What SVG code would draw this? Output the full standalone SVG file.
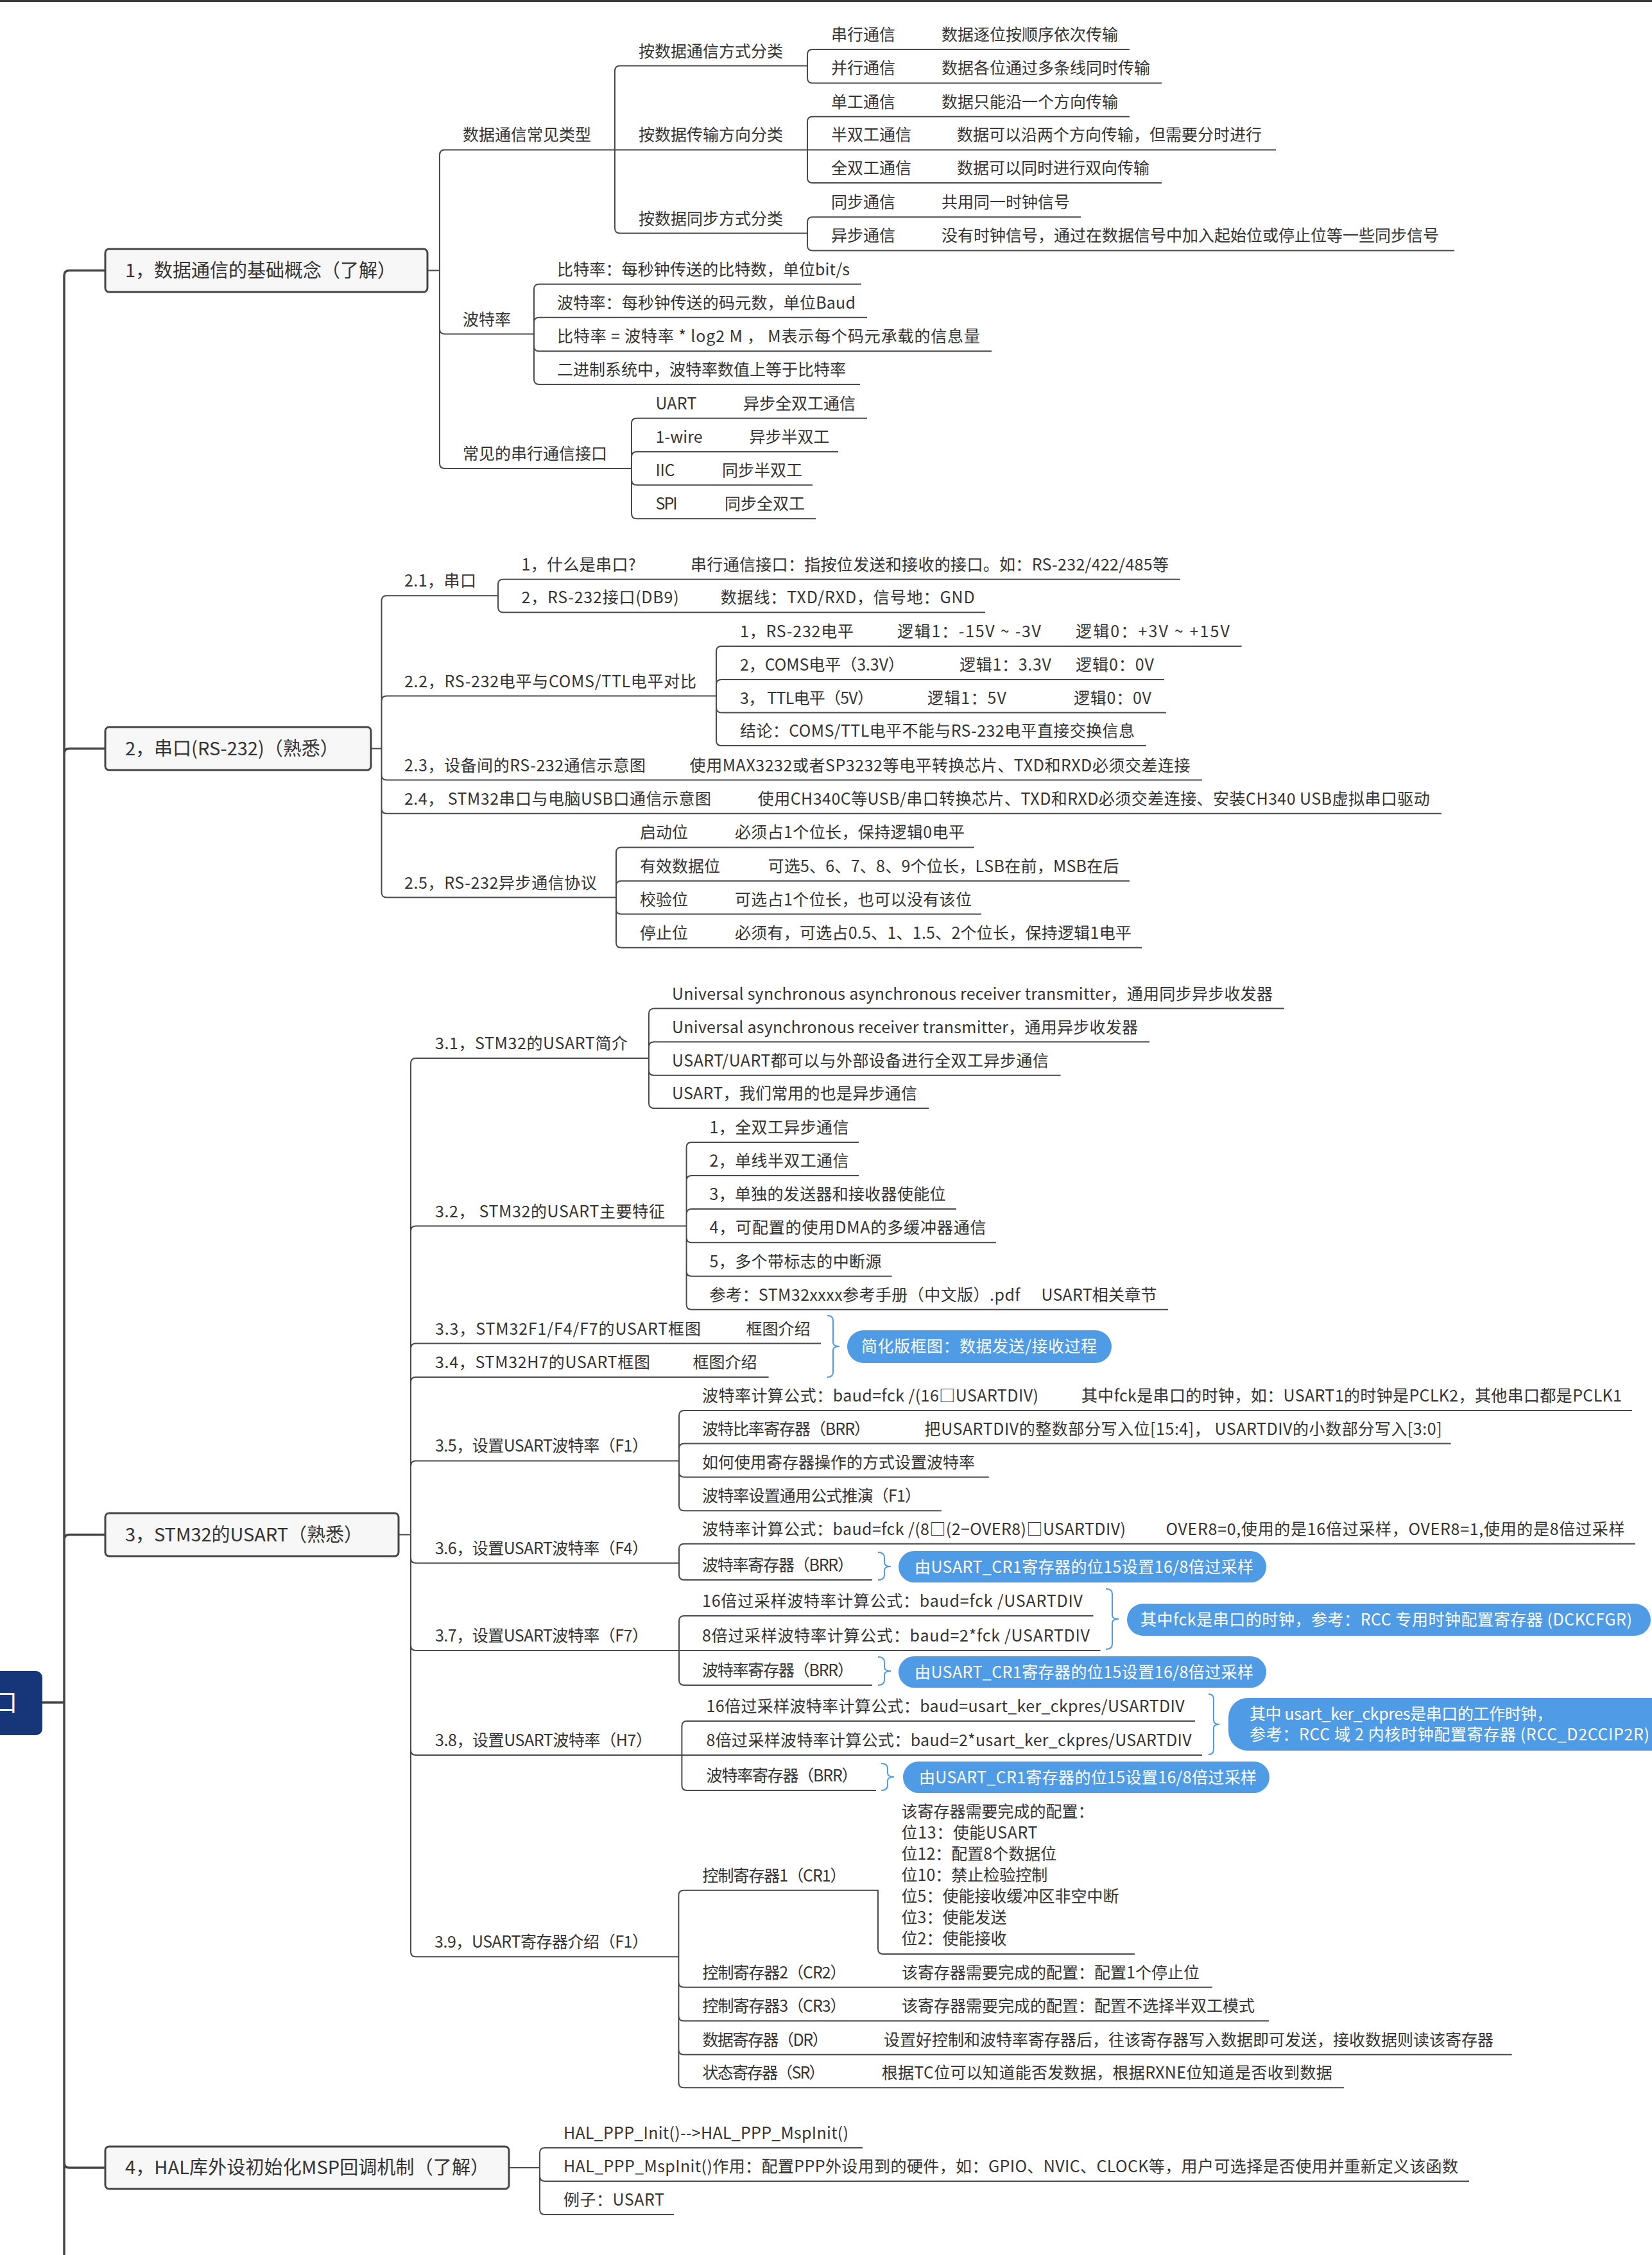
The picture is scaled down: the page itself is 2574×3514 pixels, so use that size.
<svg xmlns="http://www.w3.org/2000/svg" width="2574" height="3514" viewBox="0 0 2574 3514">
<style>
text{font-family:"Noto Sans CJK SC","Noto Sans",sans-serif;font-size:25px;fill:#333}
.m{font-size:29px}
.w{fill:#fff}
.r{font-size:38px;fill:#fff}
.c{stroke:#4a4a4a;stroke-width:2;fill:none}
.k{stroke:#444;stroke-width:3.5;fill:none}
.box{fill:#f7f7f7;stroke:#444;stroke-width:3}
.call{fill:#509be6}
.br{stroke:#509be6;stroke-width:2;fill:none}
</style>
<rect x="0" y="0" width="2574" height="3514" fill="#fff"/>
<rect x="0" y="0" width="2574" height="3" fill="#3a3a3a"/>

<g id="connectors">
<path class="k" d="M66,2653H100M100,2653V429.5Q100,421.5 108,421.5H164M100,2653V1174.5Q100,1166.5 108,1166.5H164M100,2653V2399.5Q100,2391.5 108,2391.5H164M100,2653V3370Q100,3378 108,3378H164M100,2653V3514"/>
<path class="c" d="M666,421.5H685V241.4Q685,233.4 693,233.4H958M685,421.5V512.5Q685,520.5 693,520.5H832M685,421.5V722Q685,730 693,730H984"/>
<path class="c" d="M958,233.4V110.6Q958,102.6 966,102.6H1258M958,233.4H1258M958,233.4V355.6Q958,363.6 966,363.6H1258"/>
<path class="c" d="M1258,102.6V85Q1258,77 1266,77H1760M1258,102.6V121.4Q1258,129.4 1266,129.4H1810"/>
<path class="c" d="M1258,233.4V189.8Q1258,181.8 1266,181.8H1760M1258,233.4H1988M1258,233.4V277Q1258,285 1266,285H1810"/>
<path class="c" d="M1258,363.6V346.3Q1258,338.3 1266,338.3H1684M1258,363.6V382.4Q1258,390.4 1266,390.4H2266"/>
<path class="c" d="M832,520.5V450.8Q832,442.8 840,442.8H1342M832,520.5V502.8Q832,494.8 840,494.8H1351M832,520.5V539.3Q832,547.3 840,547.3H1545M832,520.5V591Q832,599 840,599H1340"/>
<path class="c" d="M984,730V659.7Q984,651.7 992,651.7H1351M984,730V712Q984,704 992,704H1306M984,730V747.7Q984,755.7 992,755.7H1266M984,730V800.3Q984,808.3 992,808.3H1271"/>

<path class="c" d="M578,1166.5H594.5V936.3Q594.5,928.3 602.5,928.3H776M594.5,1166.5V1092.5Q594.5,1084.5 602.5,1084.5H1116M594.5,1166.5V1207.5Q594.5,1215.5 602.5,1215.5H1873M594.5,1166.5V1259.8Q594.5,1267.8 602.5,1267.8H2246M594.5,1166.5V1390.5Q594.5,1398.5 602.5,1398.5H960"/>
<path class="c" d="M776,928.3V910.7Q776,902.7 784,902.7H1839M776,928.3V946.3Q776,954.3 784,954.3H1535"/>
<path class="c" d="M1116,1084.5V1015Q1116,1007 1124,1007H1934.5M1116,1084.5V1067Q1116,1059 1124,1059H1814M1116,1084.5V1102.6Q1116,1110.6 1124,1110.6H1817M1116,1084.5V1154Q1116,1162 1124,1162H1786"/>
<path class="c" d="M960,1398.5V1328.4Q960,1320.4 968,1320.4H1518M960,1398.5V1380.7Q960,1372.7 968,1372.7H1760M960,1398.5V1416.5Q960,1424.5 968,1424.5H1529M960,1398.5V1468.7Q960,1476.7 968,1476.7H1779"/>

<path class="c" d="M621,2391.5H640V1657Q640,1649 648,1649H1011M640,2391.5V1918.6Q640,1910.6 648,1910.6H1069.6M640,2391.5V2101.6Q640,2093.6 648,2093.6H1279M640,2391.5V2154Q640,2146 648,2146H1197.6M640,2391.5V2284.4Q640,2276.4 648,2276.4H1058M640,2391.5V2427.7Q640,2435.7 648,2435.7H1058M640,2391.5V2564Q640,2572 648,2572H1058M640,2391.5V2727Q640,2735 648,2735H1062.4M640,2391.5V3041.3Q640,3049.3 648,3049.3H1057.4"/>
<path class="c" d="M1011,1649V1579.6Q1011,1571.6 1019,1571.6H2001M1011,1649V1631.6Q1011,1623.6 1019,1623.6H1791M1011,1649V1667.7Q1011,1675.7 1019,1675.7H1652.6M1011,1649V1719Q1011,1727 1019,1727H1447"/>
<path class="c" d="M1069.6,1910.6V1788Q1069.6,1780 1077.6,1780H1338M1069.6,1910.6V1840Q1069.6,1832 1077.6,1832H1338M1069.6,1910.6V1892Q1069.6,1884 1077.6,1884H1490M1069.6,1910.6V1928.3Q1069.6,1936.3 1077.6,1936.3H1552M1069.6,1910.6V1980.7Q1069.6,1988.7 1077.6,1988.7H1389.6M1069.6,1910.6V2032.8Q1069.6,2040.8 1077.6,2040.8H1820"/>
<path class="c" d="M1058,2276.4V2205.9Q1058,2197.9 1066,2197.9H2543M1058,2276.4V2257.6Q1058,2249.6 1066,2249.6H2260.6M1058,2276.4V2293.8Q1058,2301.8 1066,2301.8H1540.7M1058,2276.4V2346.3Q1058,2354.3 1066,2354.3H1467"/>
<path class="c" d="M1058,2435.7V2413.7Q1058,2405.7 1066,2405.7H2548M1058,2435.7V2454Q1058,2462 1066,2462H1359"/>
<path class="c" d="M1058,2572V2526Q1058,2518 1066,2518H1703.5M1058,2572H1714.6M1058,2572V2618Q1058,2626 1066,2626H1359"/>
<path class="c" d="M1062.4,2735V2690Q1062.4,2682 1070.4,2682H1862M1062.4,2735H1873M1062.4,2735V2782Q1062.4,2790 1070.4,2790H1365"/>
<path class="c" d="M1057.4,3049.3V2953.7Q1057.4,2945.7 1065.4,2945.7H1368V3037Q1368,3045 1376,3045H1768M1057.4,3049.3V3088.7Q1057.4,3096.7 1065.4,3096.7H1889M1057.4,3049.3V3141.3Q1057.4,3149.3 1065.4,3149.3H1977M1057.4,3049.3V3193.7Q1057.4,3201.7 1065.4,3201.7H2355.7M1057.4,3049.3V3245.3Q1057.4,3253.3 1065.4,3253.3H2094"/>

<path class="c" d="M793,3378H841V3355Q841,3347 849,3347H1344M841,3378V3391Q841,3399 849,3399H2289M841,3378V3443Q841,3451 849,3451H1050"/>

<path class="br" d="M1289,2050Q1298,2050 1298,2058V2092Q1298,2098 1308,2098Q1298,2098 1298,2104V2138Q1298,2146 1289,2146"/>
<path class="br" d="M1368,2419Q1378,2419 1378,2427V2435Q1378,2441 1388,2441Q1378,2441 1378,2447V2454Q1378,2462 1368,2462"/>
<path class="br" d="M1723,2476Q1733,2476 1733,2484V2517Q1733,2523 1743,2523Q1733,2523 1733,2529V2562Q1733,2570 1723,2570"/>
<path class="br" d="M1368,2582Q1378,2582 1378,2590V2598Q1378,2604 1388,2604Q1378,2604 1378,2610V2618Q1378,2626 1368,2626"/>
<path class="br" d="M1883,2640Q1891,2640 1891,2648V2681Q1891,2687 1900,2687Q1891,2687 1891,2693V2726Q1891,2734 1883,2734"/>
<path class="br" d="M1373,2748Q1383,2748 1383,2756V2763Q1383,2769 1393,2769Q1383,2769 1383,2775V2782Q1383,2790 1373,2790"/>
</g>

<g id="root"><rect x="-10" y="2604" width="76" height="100" rx="10" fill="#17367a"/><text class="r" x="27" y="2666" text-anchor="end">串口</text></g>

<g id="s1"><rect class="box" x="164" y="388" width="502" height="67" rx="6"/><text class="m" x="195" y="432">1，数据通信的基础概念（了解）</text></g>
<g id="n1a"><text x="721" y="219.4">数据通信常见类型</text></g>
<g id="n1a1"><text x="995" y="88.6">按数据通信方式分类</text></g>
<g id="n1a2"><text x="995" y="219.4">按数据传输方向分类</text></g>
<g id="n1a3"><text x="995" y="349.6">按数据同步方式分类</text></g>
<g id="n1a1a"><text x="1295" y="63">串行通信</text><text x="1467" y="63">数据逐位按顺序依次传输</text></g>
<g id="n1a1b"><text x="1295" y="115.4">并行通信</text><text x="1467" y="115.4">数据各位通过多条线同时传输</text></g>
<g id="n1a2a"><text x="1295" y="167.8">单工通信</text><text x="1467" y="167.8">数据只能沿一个方向传输</text></g>
<g id="n1a2b"><text x="1295" y="219.4">半双工通信</text><text x="1491" y="219.4">数据可以沿两个方向传输，但需要分时进行</text></g>
<g id="n1a2c"><text x="1295" y="271">全双工通信</text><text x="1491" y="271">数据可以同时进行双向传输</text></g>
<g id="n1a3a"><text x="1295" y="324.3">同步通信</text><text x="1467" y="324.3">共用同一时钟信号</text></g>
<g id="n1a3b"><text x="1295" y="376.4">异步通信</text><text x="1467" y="376.4">没有时钟信号，通过在数据信号中加入起始位或停止位等一些同步信号</text></g>
<g id="n1b"><text x="721" y="506.5">波特率</text></g>
<g id="n1b1"><text x="868" y="428.8" textLength="456">比特率：每秒钟传送的比特数，单位bit/s</text></g>
<g id="n1b2"><text x="868" y="480.8" textLength="465">波特率：每秒钟传送的码元数，单位Baud</text></g>
<g id="n1b3"><text x="868" y="533.3" textLength="659">比特率 = 波特率 * log2 M ， M表示每个码元承载的信息量</text></g>
<g id="n1b4"><text x="868" y="585">二进制系统中，波特率数值上等于比特率</text></g>
<g id="n1c"><text x="721" y="716">常见的串行通信接口</text></g>
<g id="n1c1"><text x="1021.5" y="637.7" textLength="64">UART</text><text x="1158" y="637.7">异步全双工通信</text></g>
<g id="n1c2"><text x="1021.5" y="690" textLength="73">1-wire</text><text x="1167.5" y="690">异步半双工</text></g>
<g id="n1c3"><text x="1021.5" y="741.7" textLength="30">IIC</text><text x="1125" y="741.7">同步半双工</text></g>
<g id="n1c4"><text x="1021.5" y="794.3" textLength="34">SPI</text><text x="1129" y="794.3">同步全双工</text></g>

<g id="s2"><rect class="box" x="164" y="1133" width="414" height="67" rx="6"/><text class="m" x="195" y="1177">2，串口(RS-232)（熟悉）</text></g>
<g id="n21"><text x="630" y="914.3" textLength="112">2.1，串口</text></g>
<g id="n211"><text x="812.6" y="888.7" textLength="178">1，什么是串口?</text><text x="1076" y="888.7" textLength="745">串行通信接口：指按位发送和接收的接口。如：RS-232/422/485等</text></g>
<g id="n212"><text x="812.6" y="940.3" textLength="245">2，RS-232接口(DB9)</text><text x="1122.7" y="940.3" textLength="396">数据线：TXD/RXD，信号地：GND</text></g>
<g id="n22"><text x="630" y="1070.5" textLength="455">2.2，RS-232电平与COMS/TTL电平对比</text></g>
<g id="n221"><text x="1153" y="993" textLength="177">1，RS-232电平</text><text x="1398" y="993" textLength="224">逻辑1：-15V ~ -3V</text><text x="1676" y="993" textLength="240">逻辑0：+3V ~ +15V</text></g>
<g id="n222"><text x="1153" y="1045" textLength="256">2，COMS电平（3.3V）</text><text x="1495" y="1045" textLength="143">逻辑1：3.3V</text><text x="1676" y="1045" textLength="122">逻辑0：0V</text></g>
<g id="n223"><text x="1153" y="1096.6" textLength="208">3， TTL电平（5V）</text><text x="1445" y="1096.6" textLength="123">逻辑1：5V</text><text x="1673" y="1096.6" textLength="121">逻辑0：0V</text></g>
<g id="n224"><text x="1153" y="1148" textLength="615">结论：COMS/TTL电平不能与RS-232电平直接交换信息</text></g>
<g id="n23"><text x="630" y="1201.5" textLength="376">2.3，设备间的RS-232通信示意图</text><text x="1074.6" y="1201.5" textLength="780">使用MAX3232或者SP3232等电平转换芯片、TXD和RXD必须交差连接</text></g>
<g id="n24"><text x="630" y="1253.8" textLength="478">2.4， STM32串口与电脑USB口通信示意图</text><text x="1180.8" y="1253.8" textLength="1047">使用CH340C等USB/串口转换芯片、TXD和RXD必须交差连接、安装CH340 USB虚拟串口驱动</text></g>
<g id="n25"><text x="630" y="1384.5" textLength="300">2.5，RS-232异步通信协议</text></g>
<g id="n251"><text x="997" y="1306.4">启动位</text><text x="1145" y="1306.4" textLength="358">必须占1个位长，保持逻辑0电平</text></g>
<g id="n252"><text x="997" y="1358.7">有效数据位</text><text x="1196.5" y="1358.7" textLength="547">可选5、6、7、8、9个位长，LSB在前，MSB在后</text></g>
<g id="n253"><text x="997" y="1410.5">校验位</text><text x="1145" y="1410.5" textLength="369">可选占1个位长，也可以没有该位</text></g>
<g id="n254"><text x="997" y="1462.7">停止位</text><text x="1145" y="1462.7" textLength="618">必须有，可选占0.5、1、1.5、2个位长，保持逻辑1电平</text></g>

<g id="s3"><rect class="box" x="164" y="2358" width="457" height="67" rx="6"/><text class="m" x="195" y="2402" textLength="370">3，STM32的USART（熟悉）</text></g>
<g id="n31"><text x="678" y="1635" textLength="300">3.1，STM32的USART简介</text></g>
<g id="n311"><text x="1047" y="1557.6" textLength="936">Universal synchronous asynchronous receiver transmitter，通用同步异步收发器</text></g>
<g id="n312"><text x="1047" y="1609.6" textLength="726">Universal asynchronous receiver transmitter，通用异步收发器</text></g>
<g id="n313"><text x="1047" y="1661.7" textLength="587">USART/UART都可以与外部设备进行全双工异步通信</text></g>
<g id="n314"><text x="1047" y="1713" textLength="382">USART，我们常用的也是异步通信</text></g>
<g id="n32"><text x="678" y="1896.6" textLength="358">3.2， STM32的USART主要特征</text></g>
<g id="n321"><text x="1105.5" y="1766" textLength="217">1，全双工异步通信</text></g>
<g id="n322"><text x="1105.5" y="1818" textLength="217">2，单线半双工通信</text></g>
<g id="n323"><text x="1105.5" y="1870" textLength="368">3，单独的发送器和接收器使能位</text></g>
<g id="n324"><text x="1105.5" y="1922.3" textLength="431">4，可配置的使用DMA的多缓冲器通信</text></g>
<g id="n325"><text x="1105.5" y="1974.7" textLength="268">5，多个带标志的中断源</text></g>
<g id="n326"><text x="1105.5" y="2026.8" textLength="484">参考：STM32xxxx参考手册（中文版）.pdf</text><text x="1622.5" y="2026.8" textLength="180">USART相关章节</text></g>
<g id="n33"><text x="678" y="2079.6" textLength="414">3.3，STM32F1/F4/F7的USART框图</text><text x="1162.5" y="2079.6">框图介绍</text></g>
<g id="n34"><text x="678" y="2132" textLength="335">3.4，STM32H7的USART框图</text><text x="1079.6" y="2132">框图介绍</text></g>
<g id="c34"><rect class="call" x="1320" y="2073" width="412" height="51" rx="25.5"/><text class="w" x="1342" y="2107" textLength="367">简化版框图：数据发送/接收过程</text></g>
<g id="n35"><text x="678" y="2262.4" textLength="332">3.5，设置USART波特率（F1）</text></g>
<g id="n351"><text x="1094" y="2183.9" textLength="524">波特率计算公式：baud=fck /(16□USARTDIV)</text><text x="1685" y="2183.9" textLength="842">其中fck是串口的时钟，如：USART1的时钟是PCLK2，其他串口都是PCLK1</text></g>
<g id="n352"><text x="1094" y="2235.6" textLength="262">波特比率寄存器（BRR）</text><text x="1440.6" y="2235.6" textLength="806">把USARTDIV的整数部分写入位[15:4]， USARTDIV的小数部分写入[3:0]</text></g>
<g id="n353"><text x="1094" y="2287.8">如何使用寄存器操作的方式设置波特率</text></g>
<g id="n354"><text x="1094" y="2340.3" textLength="341">波特率设置通用公式推演（F1）</text></g>
<g id="n36"><text x="678" y="2421.7" textLength="332">3.6，设置USART波特率（F4）</text></g>
<g id="n361"><text x="1094" y="2391.7" textLength="660">波特率计算公式：baud=fck /(8□(2−OVER8)□USARTDIV)</text><text x="1816.5" y="2391.7" textLength="715">OVER8=0,使用的是16倍过采样，OVER8=1,使用的是8倍过采样</text></g>
<g id="n362"><text x="1094" y="2448" textLength="236">波特率寄存器（BRR）</text></g>
<g id="c36"><rect class="call" x="1400" y="2417" width="573" height="49" rx="24.5"/><text class="w" x="1425" y="2450.5" textLength="528">由USART_CR1寄存器的位15设置16/8倍过采样</text></g>
<g id="n37"><text x="678" y="2558" textLength="332">3.7，设置USART波特率（F7）</text></g>
<g id="n371"><text x="1094" y="2504" textLength="593">16倍过采样波特率计算公式：baud=fck /USARTDIV</text></g>
<g id="n372"><text x="1094" y="2558" textLength="604">8倍过采样波特率计算公式：baud=2*fck /USARTDIV</text></g>
<g id="c37a"><rect class="call" x="1756" y="2499" width="816" height="50" rx="25"/><text class="w" x="1777" y="2533" textLength="766">其中fck是串口的时钟，参考：RCC 专用时钟配置寄存器 (DCKCFGR)</text></g>
<g id="n373"><text x="1094" y="2612" textLength="236">波特率寄存器（BRR）</text></g>
<g id="c37b"><rect class="call" x="1400" y="2581" width="573" height="49" rx="24.5"/><text class="w" x="1425" y="2614.5" textLength="528">由USART_CR1寄存器的位15设置16/8倍过采样</text></g>
<g id="n38"><text x="678" y="2721" textLength="338">3.8，设置USART波特率（H7）</text></g>
<g id="n381"><text x="1100.6" y="2668" textLength="745">16倍过采样波特率计算公式：baud=usart_ker_ckpres/USARTDIV</text></g>
<g id="n382"><text x="1100.6" y="2721" textLength="756">8倍过采样波特率计算公式：baud=2*usart_ker_ckpres/USARTDIV</text></g>
<g id="c38a"><rect class="call" x="1914" y="2646" width="700" height="82" rx="30"/><text class="w" x="1947" y="2680" textLength="472">其中 usart_ker_ckpres是串口的工作时钟，</text><text class="w" x="1947" y="2712" textLength="623">参考：RCC 域 2 内核时钟配置寄存器 (RCC_D2CCIP2R)</text></g>
<g id="n383"><text x="1100.6" y="2776" textLength="236">波特率寄存器（BRR）</text></g>
<g id="c38b"><rect class="call" x="1407" y="2745" width="571" height="49" rx="24.5"/><text class="w" x="1432" y="2778.5" textLength="526">由USART_CR1寄存器的位15设置16/8倍过采样</text></g>
<g id="n39"><text x="677" y="3035.3" textLength="333">3.9，USART寄存器介绍（F1）</text></g>
<g id="n391"><text x="1094.6" y="2931.7" textLength="224">控制寄存器1（CR1）</text></g>
<g id="n391a"><text x="1404.6" y="2832">该寄存器需要完成的配置：</text><text x="1404.6" y="2865" textLength="212">位13：使能USART</text><text x="1404.6" y="2898">位12：配置8个数据位</text><text x="1404.6" y="2931">位10：禁止检验控制</text><text x="1404.6" y="2964">位5：使能接收缓冲区非空中断</text><text x="1404.6" y="2997">位3：使能发送</text><text x="1404.6" y="3030">位2：使能接收</text></g>
<g id="n392"><text x="1094.6" y="3082.7" textLength="224">控制寄存器2（CR2）</text><text x="1405" y="3082.7">该寄存器需要完成的配置：配置1个停止位</text></g>
<g id="n393"><text x="1094.6" y="3135.3" textLength="224">控制寄存器3（CR3）</text><text x="1405" y="3135.3">该寄存器需要完成的配置：配置不选择半双工模式</text></g>
<g id="n394"><text x="1094.6" y="3187.7" textLength="196">数据寄存器（DR）</text><text x="1377" y="3187.7">设置好控制和波特率寄存器后，往该寄存器写入数据即可发送，接收数据则读该寄存器</text></g>
<g id="n395"><text x="1094.6" y="3239.3" textLength="191">状态寄存器（SR）</text><text x="1373.7" y="3239.3" textLength="702">根据TC位可以知道能否发数据，根据RXNE位知道是否收到数据</text></g>

<g id="s4"><rect class="box" x="164" y="3345" width="629" height="66" rx="6"/><text class="m" x="195" y="3388" textLength="567">4，HAL库外设初始化MSP回调机制（了解）</text></g>
<g id="n41"><text x="878" y="3333" textLength="444">HAL_PPP_Init()--&gt;HAL_PPP_MspInit()</text></g>
<g id="n42"><text x="878" y="3385" textLength="1394">HAL_PPP_MspInit()作用：配置PPP外设用到的硬件，如：GPIO、NVIC、CLOCK等，用户可选择是否使用并重新定义该函数</text></g>
<g id="n43"><text x="878" y="3437" textLength="157">例子：USART</text></g>
</svg>
